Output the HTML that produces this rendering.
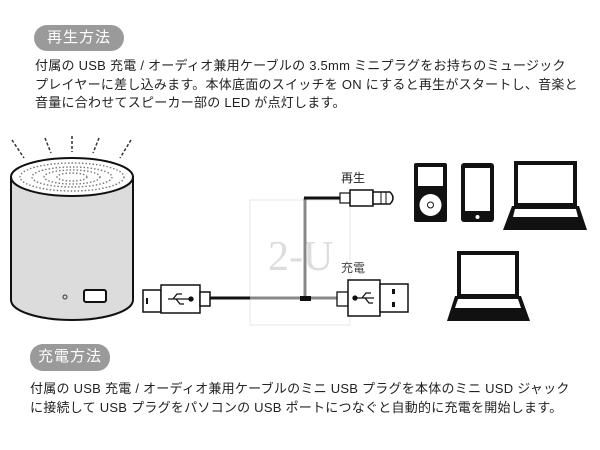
<!DOCTYPE html>
<html><head><meta charset="utf-8"><style>
html,body{margin:0;padding:0;background:#fff;}
body{width:600px;height:450px;position:relative;overflow:hidden;font-family:"Liberation Sans","Noto Sans CJK JP",sans-serif;}
.badge{position:absolute;background:#9a9a9a;color:#fff;border-radius:13px;font-size:15px;line-height:26px;text-align:center;letter-spacing:1px;}
.t{position:absolute;font-size:13px;letter-spacing:0.25px;color:#222;white-space:nowrap;line-height:18.5px;}
</style></head><body>
<div class="badge" style="left:34px;top:25px;width:90px;">再生方法</div>
<div class="t" style="left:35px;top:57px;">付属の USB 充電 / オーディオ兼用ケーブルの 3.5mm ミニプラグをお持ちのミュージック<br>プレイヤーに差し込みます。本体底面のスイッチを ON にすると再生がスタートし、音楽と<br>音量に合わせてスピーカー部の LED が点灯します。</div>
<div class="badge" style="left:30px;top:344px;width:80px;height:27px;">充電方法</div>
<div class="t" style="left:30px;top:380px;">付属の USB 充電 / オーディオ兼用ケーブルのミニ USB プラグを本体のミニ USD ジャック<br>に接続して USB プラグをパソコンの USB ポートにつなぐと自動的に充電を開始します。</div>

<svg style="position:absolute;left:0;top:0" width="600" height="450" viewBox="0 0 600 450">
<g stroke="#333" stroke-width="1.5" stroke-dasharray="3,2" fill="none">
<line x1="12" y1="140" x2="24" y2="158"/><line x1="45" y1="138" x2="51" y2="153"/><line x1="72" y1="136" x2="72" y2="152"/><line x1="99" y1="138" x2="93" y2="153"/><line x1="131" y1="140" x2="120" y2="158"/>
</g>
<path d="M11 177 L11 300 A61 20 0 0 0 133 300 L133 177 Z" fill="#dcdcdc" stroke="#111" stroke-width="2"/>
<ellipse cx="72" cy="177" rx="61" ry="19" fill="#fff" stroke="#111" stroke-width="2"/>
<g fill="none" stroke="#777" stroke-width="1.4" stroke-dasharray="1.5,2">
<ellipse cx="72" cy="177" rx="52" ry="14"/><ellipse cx="72" cy="177" rx="40" ry="10"/><ellipse cx="72" cy="177" rx="28" ry="7"/><ellipse cx="72" cy="177" rx="15" ry="4"/>
</g>
<circle cx="65" cy="297" r="2" fill="none" stroke="#333"/>
<rect x="84" y="290" width="22" height="12" rx="2" fill="#fff" stroke="#111" stroke-width="2"/>

<rect x="250" y="200" width="100" height="125" fill="#fff" stroke="#e4e4e4"/>
<text x="268" y="270" font-family="Liberation Serif,serif" font-size="42" fill="#ddd">2-U</text>

<line x1="210" y1="298" x2="252" y2="298" stroke="#111" stroke-width="3"/>
<line x1="250" y1="298" x2="338" y2="298" stroke="#888" stroke-width="3"/>
<line x1="305" y1="198" x2="305" y2="298" stroke="#888" stroke-width="3"/>
<line x1="304" y1="198" x2="342" y2="198" stroke="#111" stroke-width="3"/>
<rect x="300" y="296" width="11" height="5" fill="#111"/>

<rect x="143" y="290" width="18" height="22" fill="#fff" stroke="#111" stroke-width="1.5"/>
<rect x="146" y="298" width="2" height="6" fill="#111"/>
<rect x="161" y="285" width="39" height="28" fill="#fff" stroke="#111" stroke-width="1.5"/>
<rect x="200" y="292" width="10" height="14" fill="#fff" stroke="#111" stroke-width="1.5"/>
<g stroke="#111" stroke-width="1.3" fill="#111"><line x1="168" y1="299" x2="190" y2="299"/><circle cx="191" cy="299" r="2"/><polyline points="173,299 177,294 182,294" fill="none"/><polyline points="176,299 180,304 184,304" fill="none"/></g>

<rect x="340" y="193" width="10" height="10" fill="#fff" stroke="#111" stroke-width="1.2"/>
<rect x="350" y="190" width="23" height="16" fill="#fff" stroke="#111" stroke-width="1.5"/>
<path d="M373 192 L390 192 Q396 198 390 204 L373 204 Z" fill="#fff" stroke="#111" stroke-width="1.5"/>
<line x1="381" y1="192" x2="381" y2="204" stroke="#111"/><line x1="386" y1="192" x2="386" y2="204" stroke="#111"/>

<rect x="337" y="292" width="11" height="14" fill="#fff" stroke="#111" stroke-width="1.3"/>
<rect x="348" y="280" width="32" height="36" fill="#fff" stroke="#111" stroke-width="1.5"/>
<rect x="380" y="284" width="28" height="28" fill="#fff" stroke="#111" stroke-width="1.5"/>
<rect x="392" y="289" width="3" height="5" fill="#111"/><rect x="392" y="302" width="3" height="5" fill="#111"/>
<g stroke="#111" stroke-width="1.3" fill="#111"><line x1="355" y1="298" x2="374" y2="298"/><circle cx="355" cy="298" r="2"/><polyline points="362,298 366,293 371,293" fill="none"/><polyline points="365,298 369,303 373,303" fill="none"/></g>

<text x="341" y="182" font-size="12" fill="#222" font-family="Liberation Sans,Noto Sans CJK JP,sans-serif">再生</text>
<text x="341" y="272" font-size="12" fill="#444" font-family="Liberation Sans,Noto Sans CJK JP,sans-serif">充電</text>

<rect x="414" y="163" width="33" height="59" rx="2" fill="#111"/>
<rect x="418" y="167" width="25" height="19" fill="#fff"/>
<circle cx="430.5" cy="205" r="11" fill="#fff"/><circle cx="430.5" cy="205" r="3" fill="#fff" stroke="#111"/>
<rect x="461" y="163" width="33" height="59" rx="3" fill="#111"/>
<rect x="465" y="168" width="25" height="43" fill="#fff"/>
<circle cx="477.5" cy="217" r="2" fill="#fff"/>
<rect x="516" y="163" width="59" height="42" fill="#fff" stroke="#111" stroke-width="4"/>
<path d="M512 206 L579 206 L587 230 L503 230 Z" fill="#111"/>
<path d="M515 209 L576 209 L578 217 L513 217 Z" fill="#fff"/>
<rect x="459" y="253" width="58" height="43" fill="#fff" stroke="#111" stroke-width="4"/>
<path d="M455 296 L521 296 L530 321 L447 321 Z" fill="#111"/>
<path d="M458 299 L518 299 L521 308 L455 308 Z" fill="#fff"/>
</svg>
</body></html>
